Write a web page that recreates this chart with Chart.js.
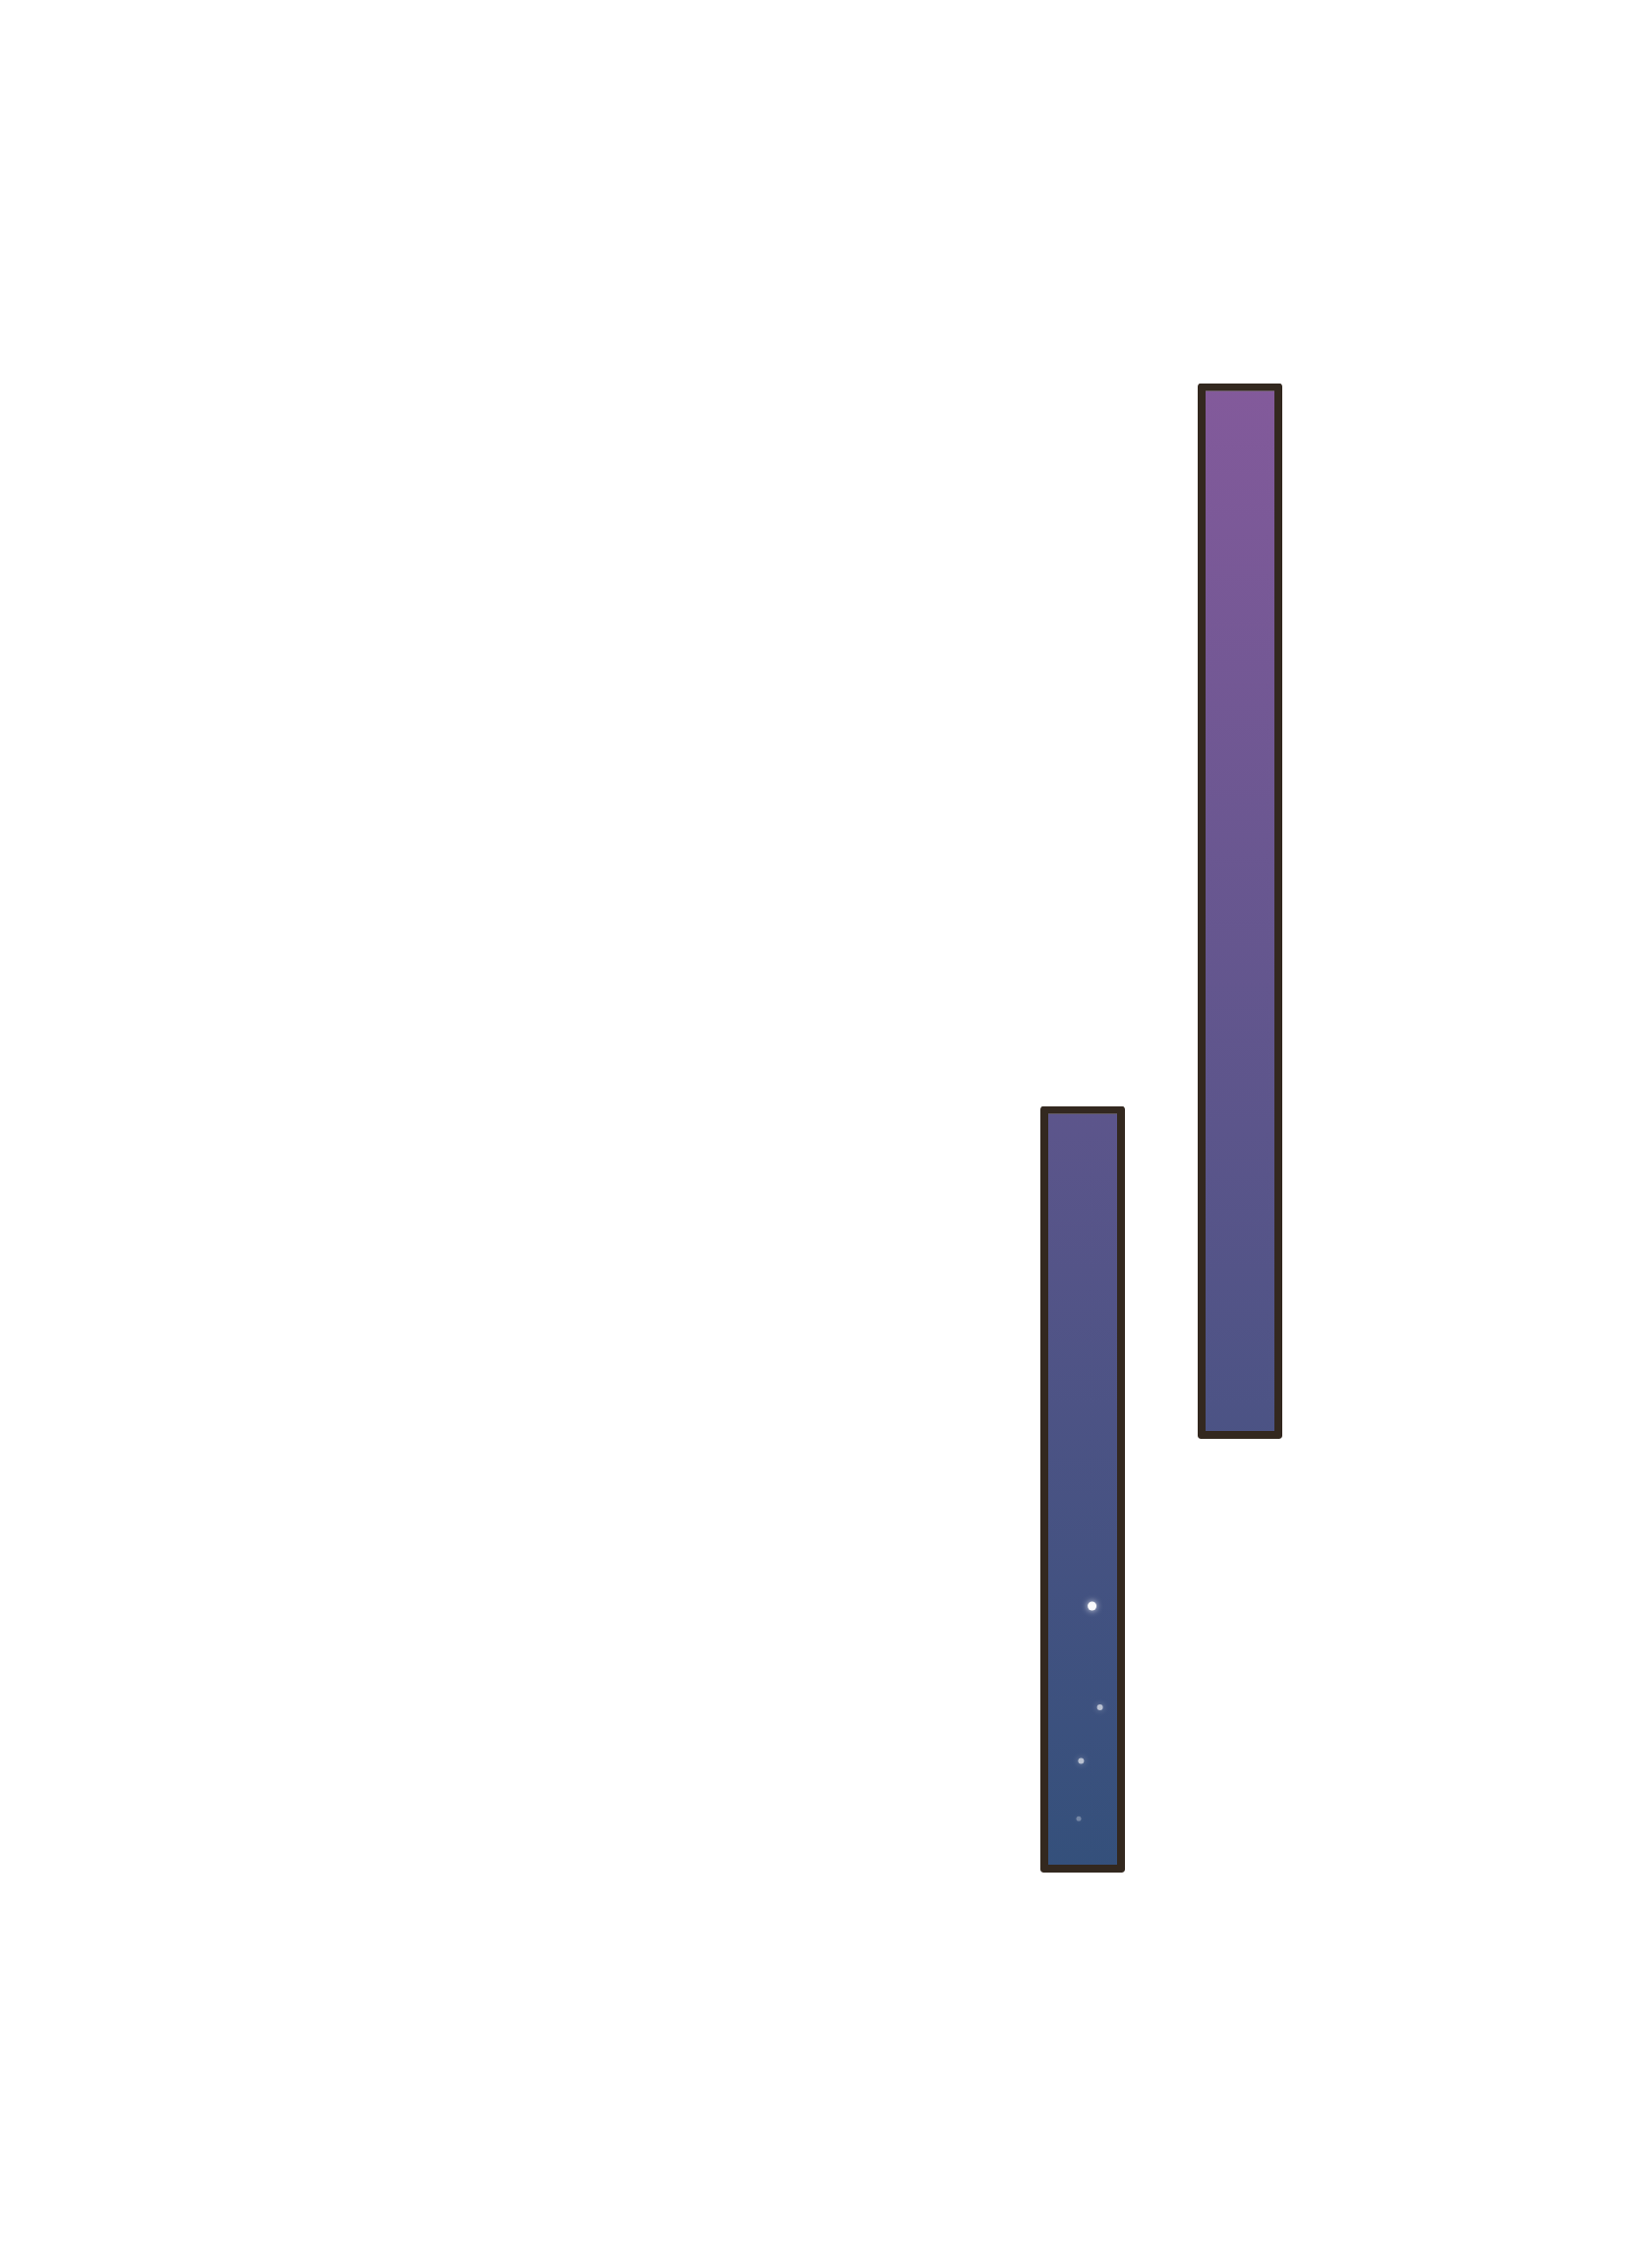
<!DOCTYPE html>
<html>
<head>
<meta charset="utf-8">
<script src="https://cdn.jsdelivr.net/npm/chart.js@4.4.1/dist/chart.umd.min.js"></script>
<style>
html,body{margin:0;padding:0;background:#ffffff;}
#wrap{width:1680px;height:2301px;}
canvas{display:block;}
</style>
</head>
<body>
<div id="wrap"><canvas id="c" width="1680" height="2301"></canvas></div>
<script>
// ---- data ----
const categories = ['1','2','3','4','5','6','7','8','9','10'];
const lowValues  = [null,null,null,null,null,null,14.1,35.1,null,null];
const highValues = [null,null,null,null,null,null,51.2,86.2,null,null];
const starX = [6.06, 6.11, 5.99, 5.975];
const starY = [27.0, 22.1, 19.5, 16.7];
const starSize = [4.5, 3, 3, 2.5];
const starAlpha = [0.95, 0.6, 0.6, 0.3];
const yMin = 0, yMax = 100;

const floating = categories.map((c,i)=> (lowValues[i]==null ? null : [lowValues[i], highValues[i]]));

function gradientFill(ctx){
  const chart = ctx.chart;
  const area = chart.chartArea;
  if(!area) return '#5a5287';
  const ys = chart.scales.y;
  const valid = highValues.filter(v=>v!=null);
  const lows = lowValues.filter(v=>v!=null);
  const top = ys.getPixelForValue(Math.max(...valid));
  const bot = ys.getPixelForValue(Math.min(...lows));
  const g = chart.ctx.createLinearGradient(0, top, 0, bot);
  g.addColorStop(0, '#835a9b');
  g.addColorStop(1, '#34507b');
  return g;
}

// stars drawn through the chart's own scales
const starPlugin = {
  id:'stars',
  afterDatasetsDraw(chart){
    const c = chart.ctx, xs = chart.scales.x, ys = chart.scales.y;
    c.save();
    starX.forEach((x,i)=>{
      const px = xs.getPixelForValue(x), py = ys.getPixelForValue(starY[i]);
      c.shadowColor = 'rgba(255,255,255,'+starAlpha[i]+')';
      c.shadowBlur = 6;
      c.fillStyle = 'rgba(255,255,255,'+starAlpha[i]+')';
      c.beginPath();
      c.arc(px, py, starSize[i], 0, Math.PI*2);
      c.fill();
    });
    c.restore();
  }
};

new Chart(document.getElementById('c'), {
  type:'bar',
  data:{
    labels: categories,
    datasets:[
      {
        data: floating,
        backgroundColor: gradientFill,
        borderColor:'#33281f',
        borderWidth:8,
        borderRadius:3,
        borderSkipped:false,
        categoryPercentage:1,
        barPercentage:0.5375
      }
    ]
  },
  options:{
    responsive:false,
    devicePixelRatio:1,
    animation:false,
    layout:{padding:{left:61,right:19,top:100,bottom:101}},
    plugins:{legend:{display:false},tooltip:{enabled:false},title:{display:false}},
    scales:{
      x:{type:'category',display:false,grid:{display:false},offset:true},
      y:{type:'linear',display:false,min:yMin,max:yMax,grid:{display:false}}
    }
  },
  plugins:[starPlugin]
});
</script>
</body>
</html>
